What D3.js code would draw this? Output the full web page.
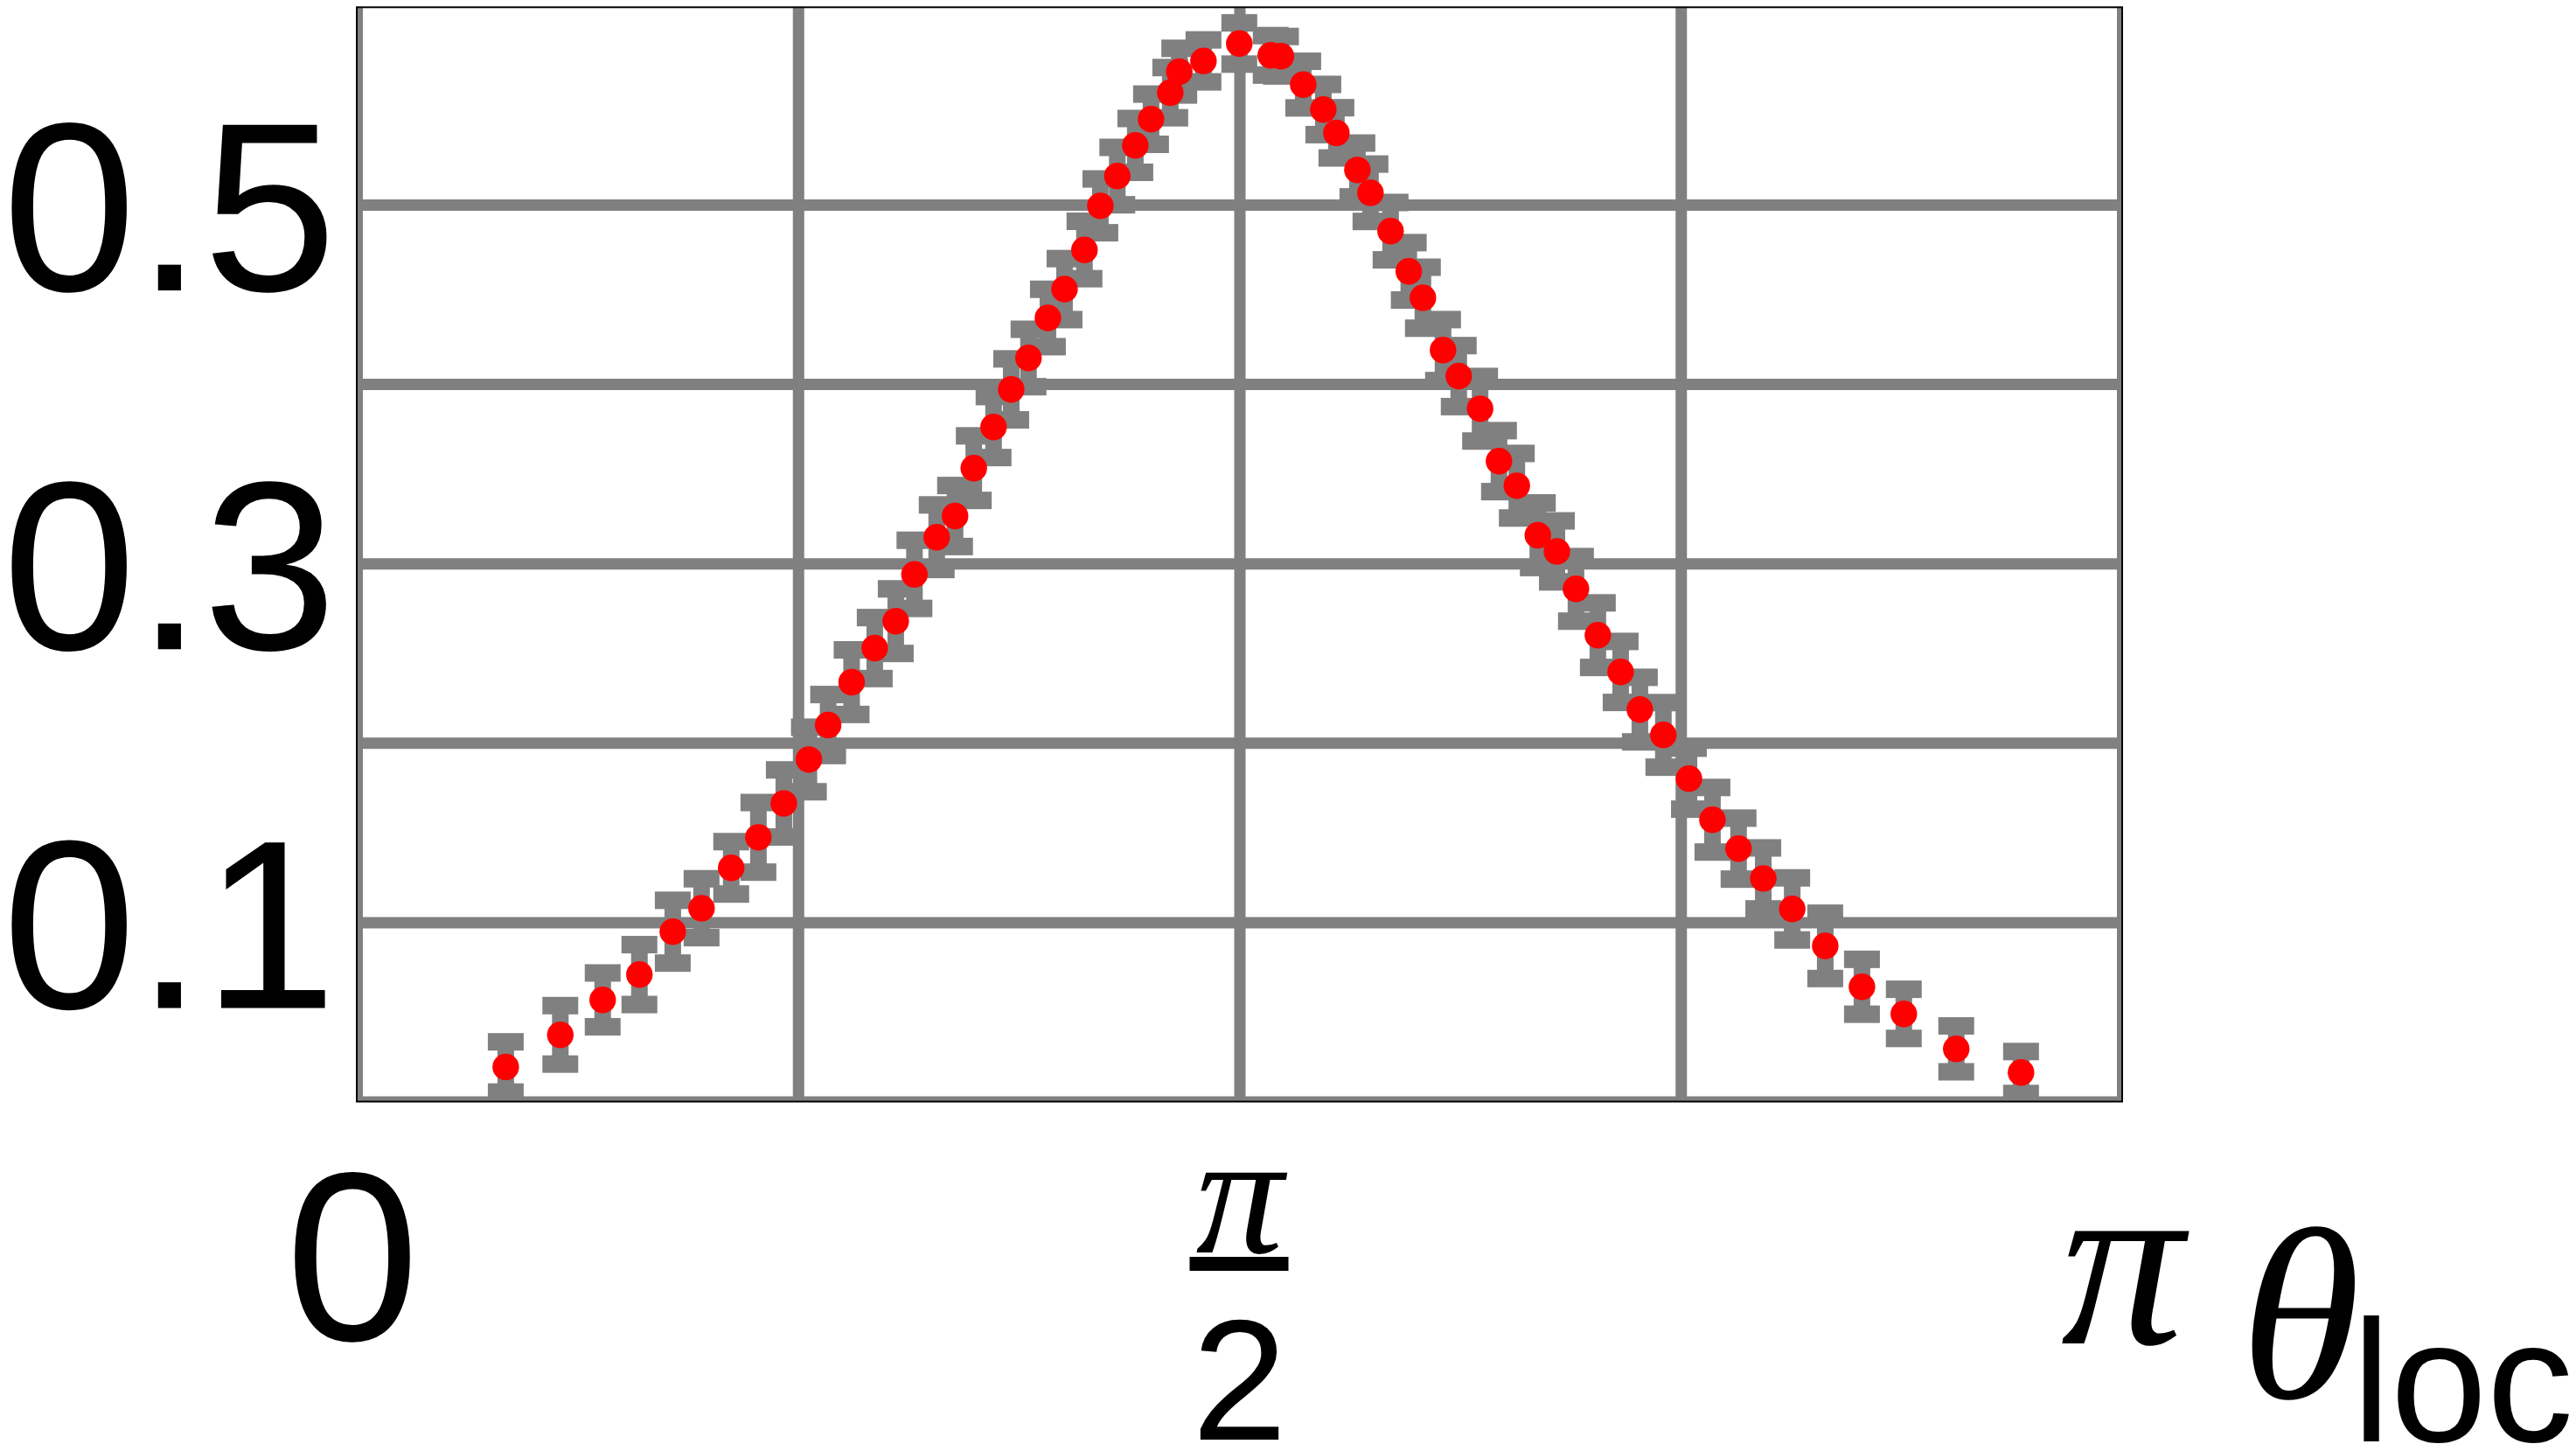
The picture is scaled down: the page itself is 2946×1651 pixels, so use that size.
<!DOCTYPE html>
<html>
<head>
<meta charset="utf-8">
<script src="https://cdn.jsdelivr.net/npm/d3@7"></script>
<style>
  body { margin: 0; background: #fff; }
  svg { display: block; }
</style>
</head>
<body>
<div id="chart"></div>
<script>
// theta_loc in units of pi
var thetaPi = [0.0844, 0.1153, 0.1393, 0.1601, 0.1790, 0.1953, 0.2121, 0.2275,
  0.2419, 0.2561, 0.2670, 0.2803, 0.2934, 0.3053, 0.3159, 0.3285,
  0.3389, 0.3495, 0.3607, 0.3707, 0.3805, 0.3915, 0.4009, 0.4122,
  0.4212, 0.4308, 0.4410, 0.4499, 0.4608, 0.4659, 0.4796, 0.4999,
  0.5177, 0.5235, 0.5361, 0.5475, 0.5549, 0.5668, 0.5742, 0.5856,
  0.5959, 0.6039, 0.6153, 0.6242, 0.6363, 0.6470, 0.6571, 0.6690,
  0.6798, 0.6906, 0.7030, 0.7159, 0.7268, 0.7401, 0.7546, 0.7679,
  0.7827, 0.7967, 0.8131, 0.8318, 0.8526, 0.8763, 0.9060, 0.9427]

var density = [0.0193, 0.0372, 0.0567, 0.0708, 0.0947, 0.1078, 0.1303, 0.1473,
  0.1662, 0.1907, 0.2099, 0.2338, 0.2528, 0.2678, 0.2939, 0.3146,
  0.3264, 0.3531, 0.3760, 0.3970, 0.4145, 0.4368, 0.4529, 0.4747,
  0.4993, 0.5159, 0.5330, 0.5476, 0.5624, 0.5741, 0.5801, 0.5898,
  0.5832, 0.5827, 0.5669, 0.5530, 0.5400, 0.5193, 0.5066, 0.4852,
  0.4628, 0.4481, 0.4189, 0.4044, 0.3862, 0.3570, 0.3433, 0.3157,
  0.3067, 0.2858, 0.2600, 0.2395, 0.2185, 0.2044, 0.1800, 0.1571,
  0.1410, 0.1244, 0.1074, 0.0868, 0.0640, 0.0489, 0.0294, 0.0162]

var errBar = [0.0140, 0.0163, 0.0150, 0.0167, 0.0175, 0.0164, 0.0146, 0.0194,
  0.0187, 0.0180, 0.0170, 0.0180, 0.0170, 0.0180, 0.0190, 0.0180,
  0.0170, 0.0180, 0.0170, 0.0170, 0.0160, 0.0160, 0.0170, 0.0160,
  0.0150, 0.0160, 0.0150, 0.0140, 0.0140, 0.0130, 0.0117, 0.0115,
  0.0110, 0.0110, 0.0130, 0.0140, 0.0140, 0.0150, 0.0160, 0.0160,
  0.0160, 0.0170, 0.0170, 0.0170, 0.0180, 0.0170, 0.0180, 0.0180,
  0.0170, 0.0180, 0.0180, 0.0170, 0.0180, 0.0180, 0.0170, 0.0180,
  0.0170, 0.0170, 0.0173, 0.0182, 0.0153, 0.0137, 0.0128, 0.0117]

var yTickValues = [0.1, 0.3, 0.5]
var yGridValues = [0, 0.1, 0.2, 0.3, 0.4, 0.5]
var xGridValues = [0, 0.25, 0.5, 0.75, 1]

var svg = d3.select("#chart").append("svg")
    .attr("width", 2946)
    .attr("height", 1651)

// plot box (top is reserved on window, so use pl/pr/pt/pb)
var pl = 408, pr = 2427, pt = 8.3, pb = 1259.5

var x = d3.scaleLinear().domain([0, 1]).range([pl, pr])
var y = d3.scaleLinear().domain([0, 0.61]).range([pb, pt])

var gray = "#808080"
var sans = "'Liberation Sans', Arial, sans-serif"
var serif = "'Liberation Serif', 'Times New Roman', serif"

svg.append("clipPath").attr("id", "plot-clip")
  .append("rect")
    .attr("x", pl).attr("y", pt)
    .attr("width", pr - pl).attr("height", pb - pt)

var plot = svg.append("g").attr("clip-path", "url(#plot-clip)")

// grid lines
var gx = plot.append("g")
  .attr("transform", "translate(0," + pb + ")")
  .call(d3.axisBottom(x).tickValues(xGridValues).tickSize(-(pb - pt)).tickFormat(""))
gx.select(".domain").remove()
gx.selectAll("line").attr("stroke", gray).attr("stroke-width", 13)

var gy = plot.append("g")
  .attr("transform", "translate(" + pl + ",0)")
  .call(d3.axisLeft(y).tickValues(yGridValues).tickSize(-(pr - pl)).tickFormat(""))
gy.select(".domain").remove()
gy.selectAll("line").attr("stroke", gray).attr("stroke-width", 13)

// error bars
var idx = d3.range(thetaPi.length)
var bars = plot.append("g").attr("fill", gray)

bars.selectAll(".stem")
  .data(idx)
  .enter().append("rect")
    .attr("class", "stem")
    .attr("x", function(i) { return x(thetaPi[i]) - 9.5 })
    .attr("y", function(i) { return y(density[i] + errBar[i]) })
    .attr("width", 19)
    .attr("height", function(i) { return y(density[i] - errBar[i]) - y(density[i] + errBar[i]) })

bars.selectAll(".cap-top")
  .data(idx)
  .enter().append("rect")
    .attr("class", "cap-top")
    .attr("x", function(i) { return x(thetaPi[i]) - 20.5 })
    .attr("y", function(i) { return y(density[i] + errBar[i]) - 10 })
    .attr("width", 41)
    .attr("height", 20)

bars.selectAll(".cap-bottom")
  .data(idx)
  .enter().append("rect")
    .attr("class", "cap-bottom")
    .attr("x", function(i) { return x(thetaPi[i]) - 20.5 })
    .attr("y", function(i) { return y(density[i] - errBar[i]) - 10 })
    .attr("width", 41)
    .attr("height", 20)

// points
plot.append("g").selectAll("circle")
  .data(idx)
  .enter().append("circle")
    .attr("cx", function(i) { return x(thetaPi[i]) })
    .attr("cy", function(i) { return y(density[i]) })
    .attr("r", 15.2)
    .attr("fill", "#ff0000")

// frame
svg.append("rect")
  .attr("x", pl).attr("y", pt)
  .attr("width", pr - pl).attr("height", pb - pt)
  .attr("fill", "none")
  .attr("stroke", "#000")
  .attr("stroke-width", 2)

// y tick labels
var ay = svg.append("g")
  .attr("transform", "translate(385,0)")
  .call(d3.axisLeft(y).tickValues(yTickValues).tickSize(0).tickPadding(0).tickFormat(d3.format(".1f")))
ay.select(".domain").remove()
ay.selectAll("text")
  .attr("dy", "0.355em")
  .attr("font-family", sans)
  .attr("font-size", 275)
  .attr("fill", "#000")

// x tick labels
var lab = svg.append("g").attr("fill", "#000")

lab.append("text")
  .attr("x", x(0) - 5).attr("y", 1532)
  .attr("text-anchor", "middle")
  .attr("font-family", sans).attr("font-size", 275)
  .text("0")

lab.append("text")
  .attr("x", x(0.5)).attr("y", 1432)
  .attr("text-anchor", "middle")
  .attr("font-family", serif).attr("font-style", "italic").attr("font-size", 200)
  .text("π")
lab.append("rect")
  .attr("x", x(0.5) - 57).attr("y", 1437)
  .attr("width", 113).attr("height", 16)
lab.append("text")
  .attr("x", x(0.5)).attr("y", 1646)
  .attr("text-anchor", "middle")
  .attr("font-family", sans).attr("font-size", 196)
  .text("2")

lab.append("text")
  .attr("x", x(1)).attr("y", 1536)
  .attr("text-anchor", "middle")
  .attr("font-family", serif).attr("font-style", "italic").attr("font-size", 280)
  .text("π")

// axis label theta_loc
lab.append("text")
  .attr("x", 2562).attr("y", 1598)
  .attr("font-family", serif).attr("font-style", "italic").attr("font-size", 280)
  .text("θ")
lab.append("text")
  .attr("x", 2690).attr("y", 1648)
  .attr("font-family", sans).attr("font-size", 198)
  .text("loc")
</script>
</body>
</html>
